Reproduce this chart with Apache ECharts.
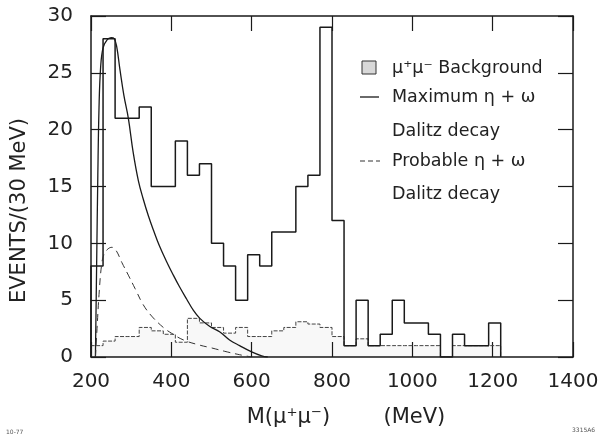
<!DOCTYPE html>
<html>
<head>
<meta charset="utf-8">
<title>Dimuon invariant mass spectrum</title>
<script src="https://cdn.jsdelivr.net/npm/echarts@6/dist/echarts.min.js"></script>
<style>
  html, body { margin: 0; padding: 0; background: #fff; }
  #chart { width: 606px; height: 437px; }
</style>
</head>
<body>
<div id="chart"></div>
<script>
// Histogram binning: 30 MeV bins starting at 200 MeV
const binStart = 200;
const binWidth = 30;

// Observed events per bin (200-230, 230-260, ... 1190-1220 MeV)
const observedCounts = [
  8, 28, 21, 21, 22, 15, 15, 19, 16, 17,
  10, 8, 5, 9, 8, 11, 11, 15, 16, 29,
  12, 1, 5, 1, 2, 5, 3, 3, 2, 0,
  2, 1, 1, 3
];

// Estimated mu+mu- background per bin (same binning)
const backgroundCounts = [
  1.0, 1.4, 1.8, 1.8, 2.6, 2.3, 2.0, 1.3, 3.4, 3.0,
  2.6, 2.1, 2.6, 1.8, 1.8, 2.3, 2.6, 3.1, 2.9, 2.6,
  1.8, 1.0, 1.6, 1.0, 1.0, 1.0, 1.0, 1.0, 1.0, 0,
  1.0, 1.0, 1.0, 1.0
];

// Maximum eta + omega Dalitz decay expectation, [mass MeV, events]
const maxDalitz = [
  [211, 0], [214, 8], [217, 16], [220, 22], [224, 25.5], [230, 27.2],
  [240, 27.9], [250, 28.1], [258, 28], [264, 27.3], [272, 25.3],
  [282, 23], [293, 21], [305, 18], [318, 15.5], [330, 13.9],
  [343, 12.4], [356, 11.1], [370, 9.8], [388, 8.4], [405, 7.2],
  [420, 6.2], [438, 5.1], [455, 4.1], [471, 3.4], [495, 2.7],
  [521, 2.2], [545, 1.5], [570, 1.0], [600, 0.45], [625, 0.1], [640, 0]
];

// Probable eta + omega Dalitz decay expectation, [mass MeV, events]
const probDalitz = [
  [211, 0], [215, 2.5], [220, 5.5], [226, 8], [232, 9], [242, 9.5],
  [252, 9.65], [262, 9.4], [277, 8.3], [293, 7.2], [310, 6.0],
  [330, 4.6], [351, 3.6], [380, 2.6], [400, 2.1], [430, 1.5],
  [470, 1.05], [500, 0.8], [533, 0.5], [570, 0.2], [600, 0]
];

// Axis ranges and tick labels
const xTicks = [200, 400, 600, 800, 1000, 1200, 1400];
const yTicks = [0, 5, 10, 15, 20, 25, 30];

// Turn per-bin counts into a closed step outline for a line series
function histogramOutline(counts) {
  const pts = [[binStart, 0]];
  counts.forEach(function (v, i) {
    const lo = binStart + i * binWidth;
    pts.push([lo, v], [lo + binWidth, v]);
  });
  pts.push([binStart + counts.length * binWidth, 0]);
  return pts;
}

const ink = '#1a1a1a';
const font = 'DejaVu Sans';

const chart = echarts.init(document.getElementById('chart'), null, { renderer: 'canvas' });

const baseX = {
  type: 'value',
  min: xTicks[0],
  max: xTicks[xTicks.length - 1],
  interval: 200,
  splitLine: { show: false },
  axisLine: { show: true, onZero: false, lineStyle: { color: ink, width: 1.5 } },
  axisTick: { show: true, inside: true, length: 15, lineStyle: { color: ink, width: 1.2 } }
};
const baseY = {
  type: 'value',
  min: yTicks[0],
  max: yTicks[yTicks.length - 1],
  interval: 5,
  splitLine: { show: false },
  axisLine: { show: true, onZero: false, lineStyle: { color: ink, width: 1.5 } },
  axisTick: { show: true, inside: true, length: 15, lineStyle: { color: ink, width: 1.2 } }
};

chart.setOption({
  backgroundColor: '#fff',
  animation: false,
  grid: { left: 91, right: 33, top: 16, bottom: 80, containLabel: false },
  xAxis: [
    Object.assign({}, baseX, {
      position: 'bottom',
      axisLabel: {
        show: true, color: '#222', fontFamily: font, fontSize: 20, margin: 15,
        formatter: function (v) { return String(v); }
      },
      name: 'M(\u03bc\u207a\u03bc\u207b)        (MeV)',
      nameLocation: 'middle',
      nameGap: 50,
      nameTextStyle: { color: '#222', fontFamily: font, fontSize: 21, padding: [0, 0, 0, 28] }
    }),
    Object.assign({}, baseX, { position: 'top', axisLabel: { show: false } })
  ],
  yAxis: [
    Object.assign({}, baseY, {
      position: 'left',
      axisLabel: {
        show: true, color: '#222', fontFamily: font, fontSize: 20, margin: 18,
        formatter: function (v) { return String(v); }
      },
      name: 'EVENTS/(30 MeV)',
      nameLocation: 'middle',
      nameGap: 61,
      nameTextStyle: { color: '#222', fontFamily: font, fontSize: 21, padding: [0, 48, 0, 0] }
    }),
    Object.assign({}, baseY, { position: 'right', axisLabel: { show: false } })
  ],
  series: [
    {
      name: '\u03bc\u207a\u03bc\u207b Background',
      type: 'line',
      data: histogramOutline(backgroundCounts),
      symbol: 'none',
      lineStyle: { color: '#444', width: 1, type: [4, 1.5] },
      areaStyle: { color: 'rgba(0,0,0,0.04)' },
      z: 2
    },
    {
      name: 'Observed',
      type: 'line',
      data: histogramOutline(observedCounts),
      symbol: 'none',
      lineStyle: { color: ink, width: 1.5 },
      z: 3
    },
    {
      name: 'Maximum \u03b7 + \u03c9 Dalitz decay',
      type: 'line',
      data: maxDalitz,
      smooth: 0.4,
      symbol: 'none',
      lineStyle: { color: ink, width: 1.3 },
      z: 4
    },
    {
      name: 'Probable \u03b7 + \u03c9 Dalitz decay',
      type: 'line',
      data: probDalitz,
      smooth: 0.4,
      symbol: 'none',
      lineStyle: { color: '#333', width: 1, type: [7, 5] },
      z: 4
    }
  ],
  graphic: [
    // key
    { type: 'rect', shape: { x: 362, y: 61, width: 14, height: 13 },
      style: { fill: '#d8d8d8', stroke: '#333', lineWidth: 1 } },
    { type: 'text', x: 392, y: 68,
      style: { text: '\u03bc\u207a\u03bc\u207b Background', fill: '#222', font: '17.5px "DejaVu Sans"', verticalAlign: 'middle' } },
    { type: 'line', shape: { x1: 360, y1: 97, x2: 379, y2: 97 },
      style: { stroke: ink, lineWidth: 1.3 } },
    { type: 'text', x: 392, y: 97,
      style: { text: 'Maximum \u03b7 + \u03c9', fill: '#222', font: '17.5px "DejaVu Sans"', verticalAlign: 'middle' } },
    { type: 'text', x: 392, y: 131,
      style: { text: 'Dalitz decay', fill: '#222', font: '17.5px "DejaVu Sans"', verticalAlign: 'middle' } },
    { type: 'line', shape: { x1: 360, y1: 161, x2: 380, y2: 161 },
      style: { stroke: '#333', lineWidth: 1, lineDash: [5, 3] } },
    { type: 'text', x: 392, y: 161,
      style: { text: 'Probable \u03b7 + \u03c9', fill: '#222', font: '17.5px "DejaVu Sans"', verticalAlign: 'middle' } },
    { type: 'text', x: 392, y: 194,
      style: { text: 'Dalitz decay', fill: '#222', font: '17.5px "DejaVu Sans"', verticalAlign: 'middle' } },
    // figure reference marks
    { type: 'text', x: 6, y: 432,
      style: { text: '10-77', fill: '#555', font: '6px "DejaVu Sans"', verticalAlign: 'middle' } },
    { type: 'text', x: 572, y: 430,
      style: { text: '3315A6', fill: '#555', font: '6px "DejaVu Sans"', verticalAlign: 'middle' } }
  ]
});
</script>
</body>
</html>
